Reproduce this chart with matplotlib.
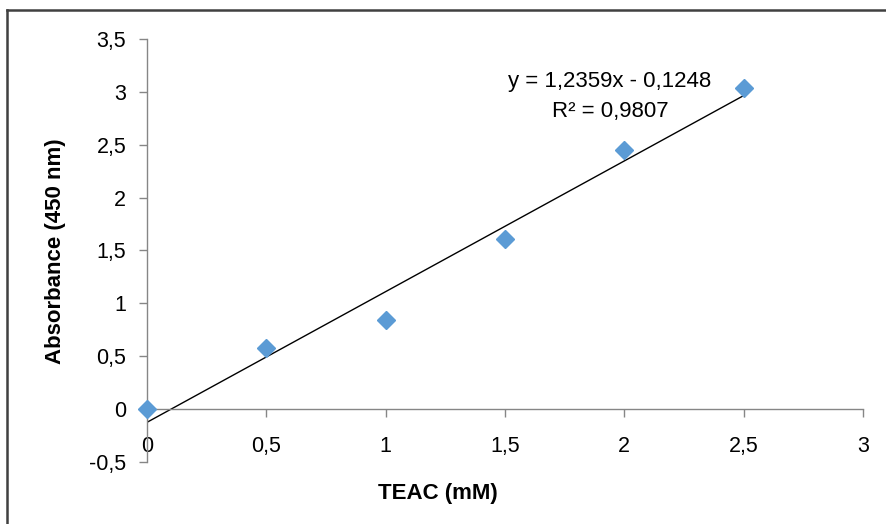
import matplotlib
matplotlib.use("Agg")
import matplotlib.pyplot as plt
from matplotlib.lines import Line2D
import numpy as np

# TEAC calibration data
teac = [0, 0.5, 1, 1.5, 2, 2.5]
absorbance = [0, 0.58, 0.84, 1.61, 2.45, 3.04]

# trendline as reported
slope = 1.2359
intercept = -0.1248
r2 = 0.9807

x_ticks = [0, 0.5, 1, 1.5, 2, 2.5, 3]
y_ticks = [-0.5, 0, 0.5, 1, 1.5, 2, 2.5, 3, 3.5]

plt.rcParams['font.family'] = ['Liberation Sans', 'DejaVu Sans']

def fmt(v):
    return ("%g" % v).replace(".", ",")

fig = plt.figure(figsize=(8.86, 5.24), dpi=100)
ax = fig.add_axes([147/886, 1 - 462/524, (863-147)/886, (462-39)/524])

xl = np.array([teac[0], teac[-1]])
ax.plot(xl, slope*xl + intercept, color='black', lw=1.0, zorder=2)
ax.plot(teac, absorbance, linestyle='none', marker='D', markersize=9.5,
        color='#5B9BD5', markeredgecolor='#5B9BD5', zorder=3, clip_on=False)

ax.set_xlim(0, 3)
ax.set_ylim(-0.5, 3.5)
ax.set_xticks(x_ticks)
ax.set_yticks(y_ticks)
ax.set_xticklabels([fmt(v) for v in x_ticks])
ax.set_yticklabels([fmt(v) for v in y_ticks])

for s in ['top', 'right']:
    ax.spines[s].set_visible(False)
ax.spines['bottom'].set_position(('data', 0))
for s in ['left', 'bottom']:
    ax.spines[s].set_color('#868686')
    ax.spines[s].set_linewidth(1.0)
ax.tick_params(axis='both', colors='#868686', labelcolor='black',
               labelsize=15.5, length=6, width=1.0, direction='out')
ax.tick_params(axis='x', pad=13)
ax.tick_params(axis='y', pad=9)

eq = "y = %sx - %s" % (fmt(slope), fmt(-intercept))
fig.text(610/886, 1 - 82/524, eq, ha='center', va='center', fontsize=16)
fig.text(610/886, 1 - 112/524, "R² = %s" % fmt(r2),
         ha='center', va='center', fontsize=16)

fig.text(438/886, 1 - 493/524, "TEAC (mM)", ha='center', va='center',
         fontsize=16, fontweight='bold')
fig.text(55/886, 1 - 251/524, "Absorbance (450 nm)", ha='center', va='center',
         fontsize=16, fontweight='bold', rotation=90)

# chart frame (only left and top edge visible)
fig.add_artist(Line2D([7/886, 7/886], [0, 1 - 10/524], transform=fig.transFigure,
                      color='#404040', lw=1.8))
fig.add_artist(Line2D([7/886, 1], [1 - 10/524, 1 - 10/524], transform=fig.transFigure,
                      color='#404040', lw=1.8))

fig.savefig("out.png", dpi=100)
